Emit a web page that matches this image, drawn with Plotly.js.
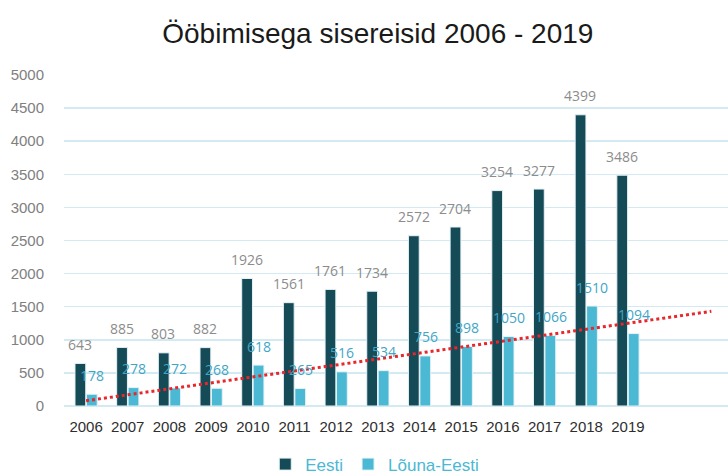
<!DOCTYPE html>
<html>
<head>
<meta charset="utf-8">
<script src="https://cdn.plot.ly/plotly-3.0.1.min.js"></script>
<style>html,body{margin:0;padding:0;background:#fff;}#chart{width:728px;height:475px;}</style>
</head>
<body>
<div id="chart"></div>
<script>
var years = [2006, 2007, 2008, 2009, 2010, 2011, 2012, 2013, 2014, 2015, 2016, 2017, 2018, 2019];
var eesti = [643, 885, 803, 882, 1926, 1561, 1761, 1734, 2572, 2704, 3254, 3277, 4399, 3486];
var louna = [178, 278, 272, 268, 618, 265, 516, 534, 756, 898, 1050, 1066, 1510, 1094];
var seriesNames = ['Eesti', 'Lõuna-Eesti'];
var forecastPeriods = 2;

// linear trendline (least squares) for Lõuna-Eesti, forecast forward
function linFit(xs, ys) {
  var n = xs.length, mx = 0, my = 0;
  for (var i = 0; i < n; i++) { mx += xs[i]; my += ys[i]; }
  mx /= n; my /= n;
  var sxy = 0, sxx = 0;
  for (var j = 0; j < n; j++) { sxy += (xs[j] - mx) * (ys[j] - my); sxx += (xs[j] - mx) * (xs[j] - mx); }
  var b = sxy / sxx;
  return {a: my - b * mx, b: b};
}
var fit = linFit(years, louna);
var tx = [years[0], years[years.length - 1] + forecastPeriods];
var ty = tx.map(function (x) { return fit.a + fit.b * x; });

var cDark = '#154a57', cLight = '#4bb8d4';

var traces = [
  {type: 'bar', name: seriesNames[0], x: years, y: eesti,
   marker: {color: cDark, line: {color: '#e6f2f6', width: 1}}, hoverinfo: 'y'},
  {type: 'bar', name: seriesNames[1], x: years, y: louna,
   marker: {color: cLight, line: {color: '#e6f2f6', width: 1}}, hoverinfo: 'y'},
  {type: 'scatter', mode: 'lines', x: tx, y: ty, showlegend: false,
   line: {color: '#e8262b', width: 3, dash: 'dot'}, hoverinfo: 'skip'}
];

var annotations = [];
years.forEach(function (yr, i) {
  annotations.push({x: yr, y: eesti[i], xref: 'x', yref: 'y', text: String(eesti[i]),
    showarrow: false, xshift: -6, yshift: 19, yanchor: 'middle',
    font: {family: 'Open Sans, Arial, sans-serif', size: 14, color: '#8c8c8c'}});
  annotations.push({x: yr, y: louna[i], xref: 'x', yref: 'y', text: String(louna[i]),
    showarrow: false, xshift: 6, yshift: 19, yanchor: 'middle',
    font: {family: 'Open Sans, Arial, sans-serif', size: 14, color: '#3fa6c6'}});
});

var layout = {
  width: 728, height: 475,
  margin: {l: 64, r: 0, t: 75, b: 69},
  paper_bgcolor: '#ffffff', plot_bgcolor: '#ffffff',
  title: {text: 'Ööbimisega sisereisid 2006 - 2019', x: 0.519, xanchor: 'center', y: 0.93, yanchor: 'middle',
          font: {family: 'Liberation Sans, Arial, sans-serif', size: 28, color: '#1a1a1a'}},
  barmode: 'group', bargap: 0.45, bargroupgap: 0.06,
  xaxis: {range: [2005.47, 2021.4], tickmode: 'array', tickvals: years, ticktext: years.map(String),
          showgrid: false, zeroline: false, showline: false, ticks: '', automargin: false,
          ticklabelstandoff: 10,
          tickfont: {family: 'Liberation Sans, Arial, sans-serif', size: 15, color: '#2e2e2e'}, fixedrange: true},
  yaxis: {range: [0, 5000], dtick: 500, showgrid: true, gridcolor: '#d3eaf3', gridwidth: 1.5,
          zeroline: true, zerolinecolor: '#d3eaf3', zerolinewidth: 1.5, showline: false, ticks: '', automargin: false,
          ticklabelstandoff: 19,
          tickfont: {family: 'Liberation Sans, Arial, sans-serif', size: 15, color: '#808080'}, fixedrange: true},
  showlegend: true,
  legend: {orientation: 'h', x: 0.468, xanchor: 'center', yref: 'container', y: 0.022, yanchor: 'middle',
           font: {family: 'Liberation Sans, Arial, sans-serif', size: 17, color: '#4bb8d4'},
           itemwidth: 30, traceorder: 'normal'},
  annotations: annotations
};

Plotly.newPlot('chart', traces, layout, {displayModeBar: false, staticPlot: true});
</script>
</body>
</html>
